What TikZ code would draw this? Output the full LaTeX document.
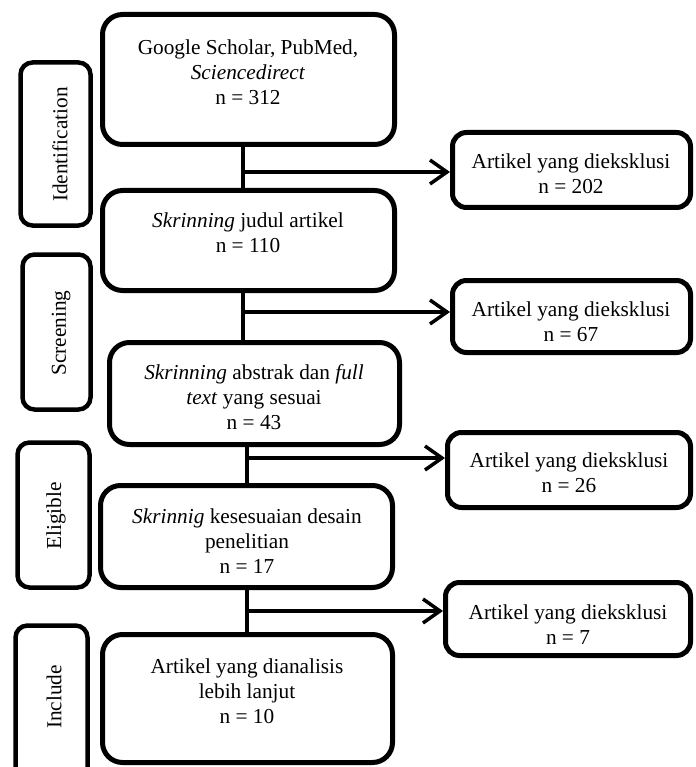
\documentclass[tikz,border=0pt]{standalone}
\usepackage{fontspec}
\setmainfont{Liberation Serif}
\usetikzlibrary{arrows.meta}
\begin{document}
\begin{tikzpicture}[x=1pt,y=-1pt,
  mbox/.style={draw, line width=5pt, rounded corners=20pt, inner sep=0pt},
  sbox/.style={draw, line width=4.5pt, rounded corners=12pt, inner sep=0pt},
  ebox/.style={draw, line width=5pt, rounded corners=14pt, inner sep=0pt},
  txt/.style={align=center, inner sep=0pt, font=\fontsize{21.3pt}{25pt}\selectfont},
  side/.style={rotate=90, inner sep=0pt, font=\fontsize{21.3pt}{25pt}\selectfont},
  link/.style={line width=3.5pt},
  arr/.style={line width=3.5pt, -{Straight Barb[length=17pt,width=24pt]}}]
\clip (0,0) rectangle (695,767);
% side label boxes
\node[sbox, minimum width=70pt, minimum height=163pt] (s1) at (55.5,144) {};
\node[side] (l1) at (60,144.5) {Identification};
\node[sbox, minimum width=68pt, minimum height=155pt] (s2) at (56.5,332) {};
\node[side] (l2) at (61,333) {Screening};
\node[sbox, minimum width=72pt, minimum height=145pt] (s3) at (53.5,515) {};
\node[side] (l3) at (56,516) {Eligible};
\node[sbox, minimum width=72pt, minimum height=172pt] (s4) at (51.5,711.5) {};
\node[side] (l4) at (54,697) {Include};
% main boxes
\node[mbox, minimum width=292pt, minimum height=130pt] (b1) at (248.5,79.5) {};
\node[txt] (t1) at (248,72) {Google Scholar, PubMed,\\\textit{Sciencedirect}\\n = 312};
\node[mbox, minimum width=292pt, minimum height=100pt] (b2) at (248.5,240.5) {};
\node[txt] (t2) at (248,233) {\textit{Skrinning} judul artikel\\n = 110};
\node[mbox, minimum width=290pt, minimum height=102pt] (b3) at (254.5,393.5) {};
\node[txt] (t3) at (254,397) {\textit{Skrinning} abstrak dan \textit{full}\\\textit{text} yang sesuai\\n = 43};
\node[mbox, minimum width=292pt, minimum height=102pt] (b4) at (246.5,536.5) {};
\node[txt] (t4) at (247,541) {\textit{Skrinnig} kesesuaian desain\\penelitian\\n = 17};
\node[mbox, minimum width=290pt, minimum height=128pt] (b5) at (247.5,698.5) {};
\node[txt] (t5) at (247,691) {Artikel yang dianalisis\\lebih lanjut\\n = 10};
% excluded boxes
\node[ebox, minimum width=238pt, minimum height=75pt] (e1) at (571.5,170) {};
\node[txt] (u1) at (571,174) {Artikel yang dieksklusi\\n = 202};
\node[ebox, minimum width=238pt, minimum height=72pt] (e2) at (571.5,316.5) {};
\node[txt] (u2) at (571,322) {Artikel yang dieksklusi\\n = 67};
\node[ebox, minimum width=243pt, minimum height=75pt] (e3) at (569,470) {};
\node[txt] (u3) at (569,473) {Artikel yang dieksklusi\\n = 26};
\node[ebox, minimum width=245pt, minimum height=73pt] (e4) at (568,619) {};
\node[txt] (u4) at (568,625) {Artikel yang dieksklusi\\n = 7};
% connectors
\coordinate (j1) at (243,172);
\coordinate (j2) at (243,312);
\coordinate (j3) at (247,458);
\coordinate (j4) at (247,611);
\draw[link] (b1.south -| j1) -- (b2.north -| j1);
\draw[arr] (j1) -- (j1 -| e1.west);
\draw[link] (b2.south -| j2) -- (b3.north -| j2);
\draw[arr] (j2) -- (j2 -| e2.west);
\draw[link] (b3.south -| j3) -- (b4.north -| j3);
\draw[arr] (j3) -- (j3 -| e3.west);
\draw[link] (b4.south -| j4) -- (b5.north -| j4);
\draw[arr] (j4) -- (j4 -| e4.west);
\end{tikzpicture}
\end{document}
